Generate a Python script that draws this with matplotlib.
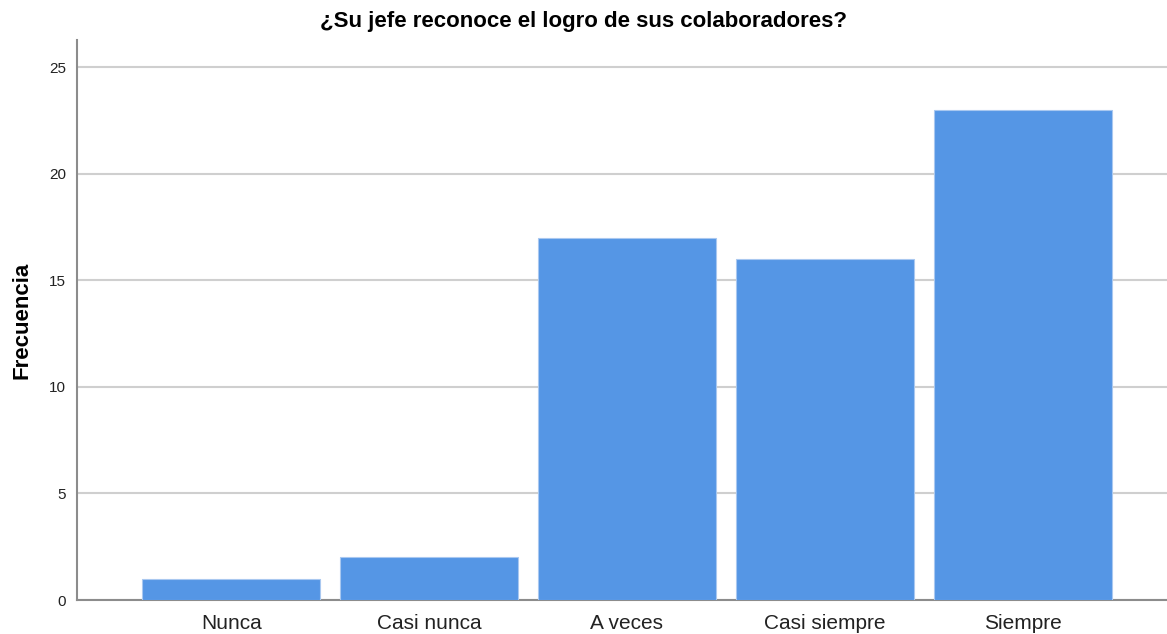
import matplotlib
matplotlib.use("Agg")
import matplotlib.pyplot as plt
import numpy as np

plt.rcParams['font.family'] = ['Liberation Sans', 'DejaVu Sans']

categorias = ["Nunca", "Casi nunca", "A veces", "Casi siempre", "Siempre"]
frecuencias = [1, 2, 17, 16, 23]
y_ticks = [0, 5, 10, 15, 20, 25]

fig = plt.figure(figsize=(11.67, 6.34), dpi=100)
ax = fig.add_axes([77/1167, 34/634, 1 - 77/1167, (600-40)/634])

x = np.arange(len(categorias))
ax.bar(x, frecuencias, width=0.9, color="#5596e5", edgecolor="#a9c8f0",
       linewidth=0.8, zorder=3)

ax.set_xlim(-0.78, 4.73)
ax.set_ylim(0, 26.27)
ax.set_yticks(y_ticks)
ax.set_xticks(x)
ax.set_xticklabels(categorias, fontsize=15, color="#222222")
ax.tick_params(axis='y', labelsize=11, colors="#222222", length=0, pad=8)
ax.tick_params(axis='x', length=0, pad=10)
ax.grid(axis='y', color="#cfcfcf", linewidth=1.5, zorder=0)

for s in ['top', 'right']:
    ax.spines[s].set_visible(False)
for s in ['left', 'bottom']:
    ax.spines[s].set_color("#8c8c8c")
    ax.spines[s].set_linewidth(1.5)

ax.set_ylabel("Frecuencia", fontsize=16, fontweight='bold', labelpad=12)
fig.text(0.5, 0.966, "¿Su jefe reconoce el logro de sus colaboradores?",
         ha='center', va='center', fontsize=16, fontweight='bold')

fig.savefig("out.png", dpi=100)
